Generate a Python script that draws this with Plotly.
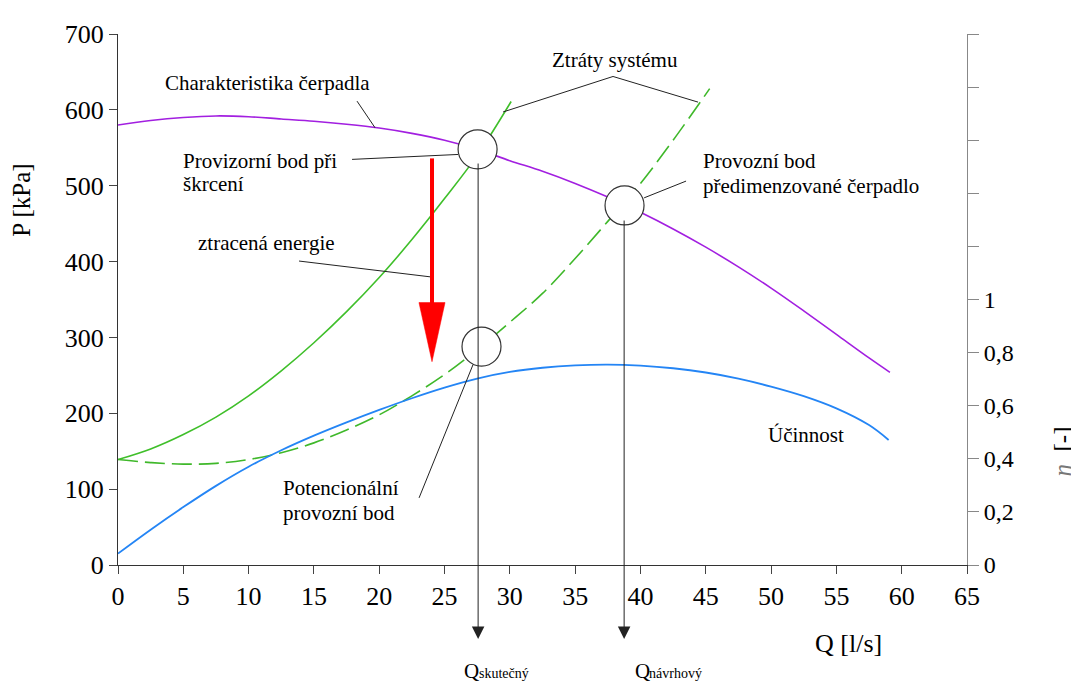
import plotly.graph_objects as go

FONT = "Liberation Serif, Times New Roman, serif"

# pump characteristic (purple) - P [kPa] over Q [l/s]
q_pump = [0, 2.5, 5, 7.5, 10, 12.5, 15, 17.5, 20, 22.5, 25, 27.5, 30, 32.5, 35, 37.5,
          40, 42.5, 45, 47.5, 50, 52.5, 55, 57.5, 59.1]
p_pump = [580, 586, 590, 592, 591, 588, 585, 581, 576, 569, 560, 548, 533, 519, 503, 485,
          465, 443, 419, 393, 365, 335, 304, 273, 254]

# system curve after throttling (solid green)
q_thr = [0, 2.5, 5, 7.5, 10, 12.5, 15, 17.5, 20, 22.5, 25, 27.5, 30.1]
p_thr = [139, 153, 172, 195, 223, 256, 293, 334, 379, 429, 483, 540, 611]

# original system curve (dashed green)
q_sys = [0, 2.5, 5, 7.5, 10, 12.5, 15, 17.5, 20, 22.5, 25, 27.5, 30, 32.5, 35, 37.5, 40, 42.5, 45.3]
p_sys = [139, 135, 133, 134, 139, 148, 161, 178, 198, 223, 251, 284, 320, 358, 404, 453, 503, 560, 628]

# efficiency (blue) - right axis
q_eta = [0, 2.5, 5, 7.5, 10, 12.5, 15, 17.5, 20, 22.5, 25, 27.5, 30, 32.5, 35, 37.5,
         40, 42.5, 45, 47.5, 50, 52.5, 55, 57.5, 59]
eta = [0.043, 0.133, 0.218, 0.298, 0.370, 0.432, 0.487, 0.537, 0.584, 0.628, 0.668, 0.702, 0.727,
       0.743, 0.752, 0.755, 0.751, 0.741, 0.725, 0.702, 0.672, 0.636, 0.590, 0.527, 0.471]

x_ticks = list(range(0, 70, 5))
eta_ticks = [0, 0.2, 0.4, 0.6, 0.8, 1, 1.2, 1.4, 1.6, 1.8, 2]
eta_text = ["0", "0,2", "0,4", "0,6", "0,8", "1", "", "", "", "", ""]

# operating points (circles)
pt_q = [27.53, 38.78, 27.83]
pt_p = [548, 474, 288]

fig = go.Figure()
fig.add_trace(go.Scatter(x=q_pump, y=p_pump, mode="lines", line=dict(color="#a21fe0", width=1.6, shape="spline")))
fig.add_trace(go.Scatter(x=q_thr, y=p_thr, mode="lines", line=dict(color="#3fbf2a", width=1.6, shape="spline")))
fig.add_trace(go.Scatter(x=q_sys, y=p_sys, mode="lines",
                         line=dict(color="#3fb82a", width=1.6, shape="spline", dash="20px,7px")))
fig.add_trace(go.Scatter(x=q_eta, y=eta, mode="lines", yaxis="y2",
                         line=dict(color="#2485f5", width=1.8, shape="spline")))

shapes = []
thin = dict(color="#222", width=1)

# leader lines
leaders = [
    ((18.30, 611.5), (19.68, 576.4)),
    ((17.92, 534.7), (26.03, 541.2)),
    ((43.49, 506.1), (40.28, 484.0)),
    ((13.86, 400.7), (23.89, 379.9)),
    ((23.05, 88.5), (27.18, 264.1)),
]
for (x0, y0), (x1, y1) in leaders:
    shapes.append(dict(type="line", xref="x", yref="y", x0=x0, y0=y0, x1=x1, y1=y1, line=thin))
shapes.append(dict(type="path", xref="x", yref="y",
                   path="M29.48,597.2 L37.90,644.0 L44.41,610.2", line=thin))

# red arrow (lost energy)
shapes.append(dict(type="line", xref="x", yref="y", x0=24.04, x1=24.04, y0=536, y1=340,
                   line=dict(color="#ff0000", width=4)))
shapes.append(dict(type="path", xref="x", yref="y", path="M23.04,346 L25.04,346 L24.04,268 Z",
                   fillcolor="#ff0000", line=dict(color="#ff0000", width=0.5)))

# circles
for q, p in zip(pt_q, pt_p):
    shapes.append(dict(type="circle", xref="x", yref="y", xsizemode="pixel", ysizemode="pixel",
                       xanchor=q, yanchor=p, x0=-19.5, x1=19.5, y0=-19.5, y1=19.5,
                       fillcolor="white", line=dict(color="#333", width=1.2), layer="above"))

ann = []


def label(text, q, p, size=21):
    ann.append(dict(text=text, x=q, y=p, xref="x", yref="y", showarrow=False,
                    xanchor="left", yanchor="middle",
                    font=dict(family=FONT, size=size, color="black")))


def paper_text(text, x, y, size, **kw):
    ann.append(dict(text=text, x=x, y=y, xref="paper", yref="paper", showarrow=False,
                    xanchor=kw.pop("xanchor", "left"), yanchor="middle",
                    font=dict(family=FONT, size=size, color="black"), **kw))


label("Charakteristika čerpadla", 3.45, 635)
label("Ztráty systému", 33.1, 666)
label("Provizorní bod při", 4.85, 532)
label("škrcení", 4.85, 502)
label("Provozní bod", 44.65, 532)
label("předimenzované čerpadlo", 44.65, 500)
label("ztracená energie", 6.0, 425)
label("Potencionální", 12.45, 101)
label("provozní bod", 12.45, 69)
label("Účinnost", 49.6, 172)

# arrows down to the Q axis
for q, ay in [(27.57, -477), (38.75, -420)]:
    ann.append(dict(x=q, y=-0.1394, xref="x", yref="paper", ax=0, ay=ay, text="",
                    showarrow=True, arrowhead=2, arrowsize=2.5, arrowwidth=1,
                    arrowcolor="#222", standoff=0))

# flow labels below the axis: big Q with a small index
paper_text("Q", 0.405, -0.1989, 21)
paper_text("skutečný", 0.4229, -0.2045, 14)
paper_text("Q", 0.6066, -0.1989, 21)
paper_text("návrhový", 0.6231, -0.2045, 14)

# axis titles
paper_text("P [kPa]", -0.1131, 0.6877, 25, xanchor="center", textangle=-90)
paper_text("Q [l/s]", 0.861, -0.1487, 26, xanchor="center")
paper_text("<span style='color:#777'><i>η</i></span>  [-]", 1.113, 0.2138, 25,
           xanchor="center", textangle=-90)

# the page puts the figure 8px in from the top-left corner
fig.update_layout(
    width=1071,
    height=674,
    margin=dict(l=110, r=112, t=19, b=117),
    paper_bgcolor="white",
    plot_bgcolor="white",
    showlegend=False,
    font=dict(family=FONT, size=26, color="black"),
    xaxis=dict(range=[0, 65], tickvals=x_ticks, ticks="outside", ticklen=8, tickcolor="#444",
               showline=True, linecolor="#333", linewidth=1, showgrid=False, zeroline=False,
               tickfont=dict(family=FONT, size=26, color="black")),
    yaxis=dict(range=[0, 700], dtick=100, ticks="outside", ticklen=8, tickcolor="#444",
               showline=True, linecolor="#333", linewidth=1, showgrid=False, zeroline=False,
               tickfont=dict(family=FONT, size=26, color="black")),
    yaxis2=dict(range=[0, 2], overlaying="y", side="right", tickvals=eta_ticks, ticktext=eta_text,
                ticks="outside", ticklen=11, tickcolor="#888", showline=True, linecolor="#888",
                linewidth=1, showgrid=False, zeroline=False,
                tickfont=dict(family=FONT, size=24, color="black")),
    shapes=shapes,
    annotations=ann,
)

fig.write_html("out.html")
